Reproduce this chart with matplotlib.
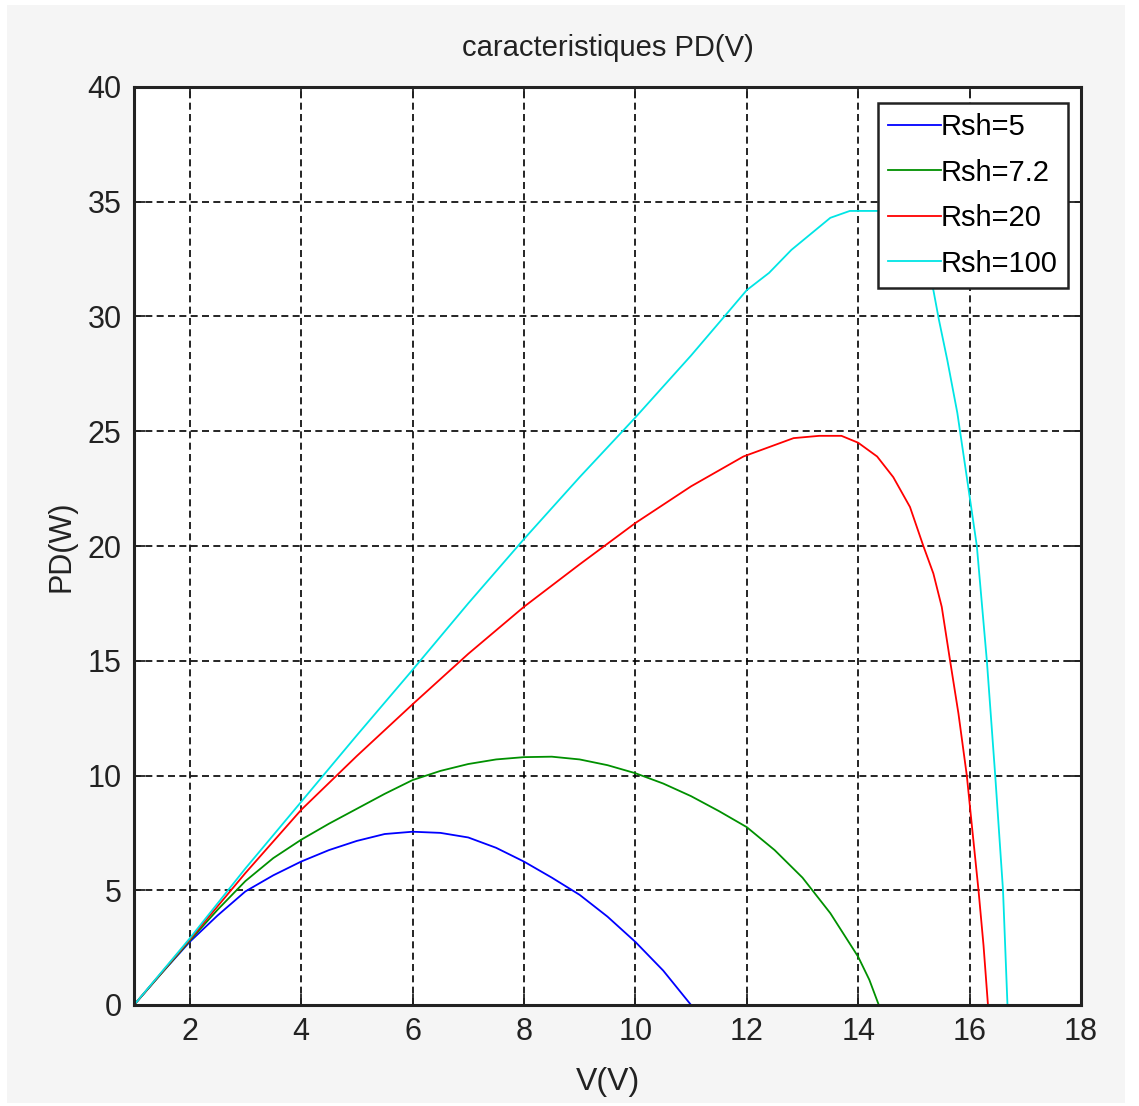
import matplotlib
matplotlib.use('Agg')
import matplotlib.pyplot as plt
from matplotlib.patches import Rectangle

# power vs voltage for several shunt resistances
v_rsh5 = [1, 1.5, 2, 2.5, 3, 3.5, 4, 4.5, 5, 5.5, 6, 6.5, 7, 7.5, 8,
          8.5, 9, 9.5, 10, 10.5, 11]
p_rsh5 = [0, 1.4, 2.75, 3.9, 4.95, 5.65, 6.25, 6.75, 7.15, 7.45, 7.55,
          7.5, 7.3, 6.85, 6.25, 5.55, 4.8, 3.85, 2.75, 1.5, 0]

v_rsh72 = [1, 1.5, 2, 2.5, 3, 3.5, 4, 4.5, 5, 5.5, 6, 6.5, 7, 7.5, 8,
           8.5, 9, 9.5, 10, 10.5, 11, 11.5, 12, 12.5, 13, 13.5, 14,
           14.2, 14.37]
p_rsh72 = [0, 1.4, 2.8, 4.15, 5.4, 6.4, 7.2, 7.9, 8.55, 9.2, 9.8, 10.2,
           10.5, 10.7, 10.8, 10.82, 10.7, 10.45, 10.1, 9.65, 9.1, 8.45,
           7.75, 6.75, 5.55, 4.0, 2.1, 1.1, 0]

v_rsh20 = [1, 2, 3, 4, 5, 6, 7, 8, 9, 10, 11, 11.94, 12.84, 13.3, 13.7,
           14.0, 14.34, 14.63, 14.93, 15.17, 15.35, 15.5, 15.65, 15.8,
           15.95, 16.05, 16.16, 16.25, 16.33]
p_rsh20 = [0, 2.85, 5.75, 8.5, 10.85, 13.1, 15.3, 17.35, 19.2, 21.0,
           22.6, 23.9, 24.7, 24.8, 24.8, 24.5, 23.9, 23.0, 21.7, 20.0,
           18.8, 17.35, 15.0, 12.7, 10.0, 7.6, 5.0, 2.6, 0]

v_rsh100 = [1, 2, 3, 4, 5, 6, 7, 8, 9, 10, 11, 11.65, 12.0, 12.4, 12.8,
            13.15, 13.5, 13.85, 14.5, 15.0, 15.35, 15.45, 15.6, 15.78,
            15.95, 16.13, 16.31, 16.46, 16.6, 16.68]
p_rsh100 = [0, 2.9, 5.95, 8.85, 11.75, 14.6, 17.5, 20.3, 23.0, 25.6, 28.3,
            30.15, 31.15, 31.9, 32.9, 33.6, 34.3, 34.6, 34.6, 33.6, 31.15,
            29.85, 28.1, 25.8, 23.0, 20.0, 15.0, 10.0, 5.0, 0]

labels = ['Rsh=5', 'Rsh=7.2', 'Rsh=20', 'Rsh=100']
colors = ['#0000ff', '#009000', '#ff0000', '#00e5e5']

x_ticks = [2, 4, 6, 8, 10, 12, 14, 16, 18]
y_ticks = [0, 5, 10, 15, 20, 25, 30, 35, 40]

plt.rcParams['font.family'] = ['Liberation Sans', 'DejaVu Sans']

fig = plt.figure(figsize=(11.39, 11.06), dpi=100, facecolor='white')
fig.patches.append(Rectangle((7 / 1139, 1 - 1103 / 1106),
                             (1125 - 7) / 1139, (1103 - 5) / 1106,
                             transform=fig.transFigure, facecolor='#f5f5f5',
                             edgecolor='none', zorder=-1))
ax = fig.add_axes([134 / 1139, 1 - 1005 / 1106, 947 / 1139, 918 / 1106])

series = [(v_rsh5, p_rsh5), (v_rsh72, p_rsh72),
          (v_rsh20, p_rsh20), (v_rsh100, p_rsh100)]
for (v, p), lab, col in zip(series, labels, colors):
    ax.plot(v, p, color=col, lw=1.3, label=lab)

ax.set_xlim(1, 18)
ax.set_ylim(0, 40)
ax.set_xticks(x_ticks)
ax.set_yticks(y_ticks)
ax.grid(True, color='black', linestyle=(0, (4.2, 2.6)), lw=1.2)
ax.tick_params(direction='in', length=8, width=1.3, top=True, right=True,
               labelsize=22, pad=9, colors='#222222')
for s in ax.spines.values():
    s.set_linewidth(2.2)
    s.set_color('#222222')

ax.set_title('caracteristiques PD(V)', fontsize=21, pad=22, color='#222222')
ax.set_xlabel('V(V)', fontsize=23, labelpad=14, color='#222222')
ax.set_ylabel('PD(W)', fontsize=22, labelpad=8, color='#222222')

leg = ax.legend(loc='upper right', bbox_to_anchor=(0.986, 0.9826),
                borderaxespad=0, fontsize=21, fancybox=False,
                edgecolor='#222222', framealpha=1, handlelength=1.8,
                handletextpad=0.0, labelspacing=0.6, borderpad=0.35)
leg.get_frame().set_linewidth(1.8)

fig.savefig('out.png', dpi=100, facecolor=fig.get_facecolor())
